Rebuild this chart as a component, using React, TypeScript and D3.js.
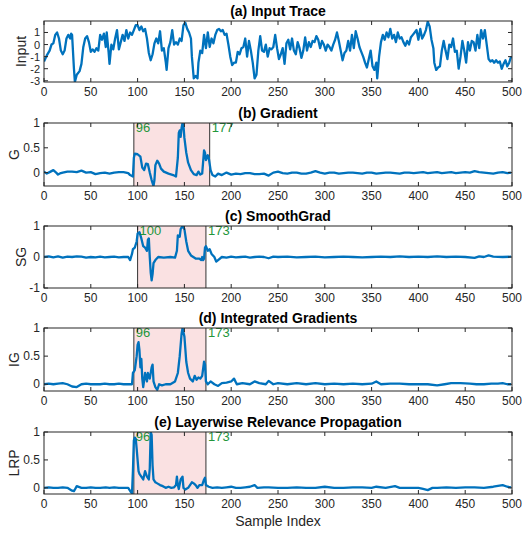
import React from "react";
import * as d3 from "d3";

// sample index / value pairs
const inputTrace: [number, number][] = [
  [0, -1.4], [3, -0.9], [6, -0.5], [8, 0], [10, 0.1], [12, 0.8], [14, 1.0], [16, 0.5], [18, -0.5], [20, -0.8],
  [22, -0.5], [24, 0.5], [26, 0.8], [28, 0.5], [29, 0.9], [30, 0.8], [32, -2.0], [33, -3.1], [35, -2.5], [38, -2.2],
  [40, -1.6], [42, -0.2], [44, 0.5], [46, 0.7], [48, 0.2], [50, -0.6], [52, -0.4], [54, -0.6], [56, -0.3], [58, -0.5],
  [60, 0.8], [62, 0.4], [64, 0.9], [66, -0.2], [67, 1.0], [69, -0.6], [70, -1.6], [72, 0], [74, -0.4], [76, 0.5],
  [78, 1.2], [80, -0.4], [82, 0.2], [84, 0.8], [86, 0.3], [88, 1.2], [90, 0.5], [92, 1.0], [94, 0.8], [96, 1.2],
  [98, 1.6], [100, 1.6], [102, 1.2], [104, 1.5], [106, 1.1], [108, 1.3], [110, 0.5], [112, -0.7], [114, -1.3], [116, -0.8],
  [118, 0.1], [120, 0.5], [122, 0.1], [124, 1.1], [126, -0.5], [128, -0.3], [130, -1.4], [131, -2.1], [133, -0.3], [135, 0.2],
  [137, 1.2], [139, 0.0], [141, 0.2], [143, 0.0], [145, 0.5], [147, 0.3], [149, 1.6], [151, 1.8], [153, 1.3], [155, 1.0],
  [157, 0.5], [158, -1.0], [160, -2.8], [162, -2.6], [164, -2.8], [165, -1.5], [167, -0.5], [169, -0.7], [171, 0.8], [173, -0.3],
  [175, 1.0], [177, -0.2], [179, 0.5], [181, 0.1], [183, 0.8], [185, 1.2], [187, 1.3], [189, 1.1], [191, 1.2], [193, 0.8],
  [195, 0.9], [197, 0.0], [199, -1.0], [201, -1.7], [203, -1.5], [205, -1.5], [207, -0.6], [209, -0.8], [211, -0.3], [213, -0.2],
  [215, 0.5], [217, -1.0], [219, 0.3], [221, -0.5], [223, -1.5], [225, -2.8], [227, -2.5], [229, -0.5], [231, 0.7], [233, -0.5],
  [235, -0.6], [237, 0.0], [239, -1.0], [241, -0.3], [243, -0.4], [245, -0.2], [247, 0.8], [249, -0.3], [251, -1.2], [253, -0.8],
  [255, -0.3], [257, -1.6], [259, 0.1], [261, 0.4], [263, -0.4], [265, 0.5], [267, -0.5], [269, -0.8], [271, 0.2], [273, -0.3],
  [275, -1.1], [277, -0.5], [279, 0.6], [281, -0.5], [283, 0.2], [285, -0.2], [287, 0.3], [289, 0.2], [291, 0.7], [293, 0.4],
  [295, -0.3], [297, 0.3], [299, 0.0], [301, -0.5], [303, 0.0], [305, -0.2], [307, -0.5], [309, 0.0], [311, 0.4], [313, 1.0],
  [315, 0.3], [317, -0.5], [319, -1.3], [321, -0.7], [323, -0.5], [325, 0.3], [327, -0.5], [329, 0.8], [331, -0.3], [333, 1.1],
  [335, 0.5], [337, -0.2], [339, -0.6], [341, -1.0], [343, -1.5], [345, -1.9], [347, -1.2], [349, -0.5], [351, -1.8], [353, -2.1],
  [355, -1.5], [356, -2.8], [358, -1.0], [360, 0.2], [362, 0.8], [364, 0.4], [366, 1.0], [368, 0.6], [370, 1.3], [372, 0.5],
  [374, 0.8], [376, 0.2], [378, 1.0], [380, 0.5], [382, 0.6], [384, 0.2], [386, -0.1], [388, 0.3], [390, 0.0], [392, 0.6],
  [394, 0.8], [396, 1.0], [398, 1.2], [400, 0.4], [402, 1.3], [404, 0.5], [406, 0.8], [408, 1.2], [410, 1.9], [412, 1.5],
  [414, 0.4], [416, -0.3], [417, -1.5], [419, -2.1], [421, -1.9], [423, -1.8], [425, -0.5], [427, 0.3], [429, -0.5], [431, -1.2],
  [433, 0.0], [435, -0.2], [437, 0.5], [439, -0.6], [441, -0.5], [443, -2.0], [445, -1.0], [447, 0.3], [449, -0.5], [451, -1.5],
  [453, 0.2], [455, -0.5], [457, 0.3], [459, 0.2], [461, -0.5], [463, 0.8], [465, -0.3], [467, 1.2], [469, 0.5], [471, 1.2],
  [473, 0.0], [475, -1.2], [477, -1.4], [479, -1.3], [481, -1.5], [483, -1.3], [485, -1.5], [487, -1.4], [489, -2.0], [491, -1.6],
  [493, -1.3], [495, -1.8], [497, -1.5], [499, -1.0],
];

const gradient: [number, number][] = [
  [0, 0.02], [3, -0.02], [6, 0.01], [10, 0.05], [13, 0.0], [15, -0.04], [18, -0.01], [20, 0.0], [25, 0.02], [30, 0.02],
  [35, 0.01], [40, 0.04], [45, 0.0], [50, 0.01], [55, -0.03], [60, -0.01], [65, 0.0], [70, -0.02], [75, 0.0], [80, 0.01],
  [85, 0.01], [90, -0.01], [92, -0.05], [95, -0.08], [96, 0.3], [97, 0.38], [100, 0.37], [103, 0.32], [105, 0.1], [107, 0.05],
  [109, 0.18], [111, 0.17], [113, 0.0], [115, -0.15], [117, -0.27], [118, -0.15], [119, 0.15], [121, 0.24], [123, 0.18], [125, 0.08],
  [128, 0.02], [133, -0.02], [138, -0.05], [141, -0.08], [143, 0.3], [144, 0.8], [145, 0.85], [146, 0.72], [147, 0.9], [148, 1.0],
  [149, 0.95], [150, 0.7], [152, 0.4], [154, 0.2], [157, 0.05], [160, -0.03], [163, -0.05], [165, 0.02], [167, -0.04], [169, -0.02],
  [171, 0.45], [172, 0.4], [173, 0.25], [175, 0.35], [176, 0.3], [178, 0.05], [180, -0.05], [183, -0.08], [186, -0.02], [190, -0.05],
  [195, 0.0], [200, -0.04], [205, -0.02], [210, -0.03], [215, -0.01], [220, -0.01], [225, -0.03], [230, -0.03], [235, -0.02], [240, -0.06],
  [245, 0.0], [250, 0.02], [255, -0.01], [260, -0.02], [265, 0.0], [270, 0.0], [275, -0.02], [280, -0.02], [285, 0.0], [290, 0.03],
  [295, 0.0], [300, -0.02], [305, 0.0], [310, 0.0], [315, -0.02], [320, -0.01], [325, 0.0], [330, 0.0], [335, -0.01], [340, -0.02],
  [345, 0.0], [350, 0.0], [355, -0.02], [360, -0.01], [365, 0.0], [370, 0.0], [375, -0.01], [380, -0.02], [385, 0.0], [390, 0.0],
  [395, -0.01], [400, 0.0], [405, 0.01], [410, -0.01], [415, 0.0], [420, 0.01], [425, -0.01], [430, 0.0], [435, 0.01], [440, -0.01],
  [445, 0.0], [450, 0.01], [455, 0.0], [460, 0.03], [465, 0.01], [470, 0.0], [475, -0.01], [480, -0.02], [485, 0.0], [490, 0.01],
  [495, -0.01], [499, 0.0],
];

const smoothGrad: [number, number][] = [
  [0, 0.0], [5, 0.02], [10, -0.01], [15, 0.02], [20, -0.02], [25, 0.01], [30, 0.0], [35, 0.02], [40, 0.01], [45, -0.02],
  [50, 0.0], [55, -0.01], [60, 0.01], [65, -0.01], [70, 0.0], [75, 0.01], [80, -0.01], [85, 0.0], [90, 0.0], [92, -0.1],
  [94, 0.1], [95, 0.25], [97, 0.3], [99, 0.5], [100, 0.75], [102, 0.8], [104, 0.6], [106, 0.35], [108, 0.3], [110, 0.2],
  [111, 0.55], [112, 0.6], [113, 0.0], [114, -0.5], [115, -0.75], [116, -0.55], [117, -0.2], [119, -0.1], [122, 0.0], [128, -0.02],
  [135, 0.0], [140, -0.02], [142, 0.2], [143, 0.7], [145, 0.65], [146, 0.9], [148, 1.0], [150, 0.9], [152, 0.5], [154, 0.2],
  [157, 0.05], [162, -0.05], [166, -0.05], [168, -0.1], [169, 0.0], [170, -0.1], [171, -0.05], [172, 0.3], [173, 0.35], [175, 0.2],
  [177, 0.25], [179, 0.1], [182, 0.0], [184, -0.15], [186, -0.1], [190, 0.0], [195, -0.02], [200, 0.01], [205, -0.01], [210, 0.0],
  [215, 0.01], [220, -0.02], [225, 0.0], [230, 0.01], [235, 0.0], [240, -0.04], [245, 0.01], [250, 0.0], [260, 0.01], [270, -0.01],
  [280, 0.0], [290, 0.01], [300, -0.01], [310, 0.0], [320, 0.01], [330, 0.0], [340, -0.01], [350, 0.0], [360, 0.01], [370, 0.0],
  [380, 0.02], [390, 0.0], [400, 0.01], [410, 0.0], [420, 0.02], [430, 0.0], [440, 0.01], [450, 0.0], [460, -0.03], [465, 0.02],
  [470, 0.0], [475, 0.05], [480, 0.01], [490, 0.0], [499, 0.01],
];

const integratedGrad: [number, number][] = [
  [0, 0.0], [5, 0.01], [10, 0.0], [15, 0.01], [20, 0.02], [25, 0.0], [30, -0.04], [35, -0.05], [40, 0.0], [45, 0.01],
  [50, 0.0], [55, 0.0], [60, 0.0], [65, 0.01], [70, 0.0], [75, 0.0], [80, 0.01], [85, 0.0], [90, 0.0], [94, 0.0],
  [95, 0.2], [97, 0.25], [99, 0.5], [100, 0.7], [101, 0.75], [102, 0.6], [103, 0.3], [104, 0.45], [105, 0.1], [106, -0.05],
  [108, 0.2], [110, 0.05], [111, 0.2], [113, 0.1], [115, 0.3], [116, 0.35], [117, 0.05], [119, -0.05], [121, -0.1], [123, 0.0],
  [126, -0.02], [130, 0.0], [135, 0.0], [140, 0.05], [143, 0.2], [145, 0.5], [147, 0.9], [148, 1.0], [150, 0.85], [152, 0.4],
  [154, 0.2], [156, 0.1], [159, 0.05], [161, 0.15], [163, 0.08], [165, 0.12], [167, 0.1], [169, 0.15], [171, 0.4], [172, 0.35],
  [173, 0.05], [175, 0.0], [178, 0.05], [182, 0.0], [186, -0.03], [190, 0.02], [195, 0.03], [200, 0.05], [203, 0.1], [206, 0.0],
  [212, 0.02], [220, 0.0], [225, 0.05], [230, 0.02], [237, 0.0], [240, 0.06], [245, 0.0], [250, 0.02], [260, 0.0], [270, 0.02],
  [280, 0.0], [290, 0.02], [300, 0.0], [310, 0.01], [320, 0.0], [330, 0.01], [340, 0.0], [350, 0.01], [355, 0.05], [360, 0.0],
  [370, 0.01], [380, 0.01], [390, 0.0], [400, 0.0], [410, 0.0], [420, -0.02], [428, 0.0], [435, 0.02], [445, 0.02], [455, 0.01],
  [462, 0.0], [470, 0.0], [478, 0.01], [485, 0.01], [490, 0.02], [495, 0.0], [499, 0.0],
];

const lrp: [number, number][] = [
  [0, 0.0], [5, 0.01], [10, 0.0], [15, 0.0], [20, 0.01], [25, 0.0], [30, -0.05], [32, -0.06], [35, 0.03], [40, 0.0],
  [45, 0.0], [50, 0.01], [55, 0.0], [60, 0.0], [66, 0.01], [70, 0.0], [75, 0.01], [80, 0.0], [85, 0.0], [90, 0.0],
  [93, -0.08], [94, -0.1], [95, 0.3], [96, 0.85], [97, 0.9], [98, 0.88], [99, 0.7], [100, 0.5], [101, 0.3], [102, 0.25],
  [104, 0.2], [106, 0.15], [108, 0.3], [110, 0.2], [112, 0.15], [113, 0.35], [114, 1.0], [115, 0.95], [116, 0.4], [117, 0.15],
  [119, 0.1], [121, 0.08], [124, 0.05], [127, 0.03], [130, 0.0], [133, 0.02], [136, 0.0], [139, 0.01], [141, 0.05], [142, 0.2],
  [143, 0.05], [144, -0.02], [146, 0.15], [148, 0.2], [149, 0.0], [151, -0.03], [154, 0.0], [156, 0.05], [158, 0.1], [160, 0.08],
  [162, 0.05], [164, 0.0], [166, 0.05], [169, 0.05], [171, 0.15], [172, 0.18], [173, 0.05], [176, 0.02], [180, 0.0], [185, 0.01],
  [190, 0.0], [195, 0.01], [200, 0.02], [205, 0.0], [210, 0.0], [215, 0.01], [220, 0.02], [225, 0.05], [228, 0.0], [235, 0.01],
  [240, 0.01], [250, 0.0], [260, 0.0], [270, 0.01], [280, 0.0], [290, 0.0], [300, 0.02], [310, 0.0], [320, 0.0], [330, 0.01],
  [340, 0.01], [350, 0.0], [355, 0.02], [365, 0.0], [375, 0.03], [380, 0.0], [390, 0.0], [400, 0.0], [405, -0.02], [410, -0.04],
  [415, 0.0], [420, 0.0], [430, 0.01], [440, 0.0], [450, 0.01], [460, 0.01], [470, 0.0], [480, 0.02], [490, 0.05], [495, 0.02],
  [499, 0.01],
];

const xTicks = [0, 50, 100, 150, 200, 250, 300, 350, 400, 450, 500];

const panels = [
  { title: "(a) Input Trace", ylabel: "Input", data: inputTrace, top: 21, bottom: 82, domain: [-3.1, 1.95], yTicks: [-3, -2, -1, 0, 1], region: null, labelX: 26, tickFont: 11 },
  { title: "(b) Gradient", ylabel: "G", data: gradient, top: 123, bottom: 186, domain: [-0.27, 1], yTicks: [0, 0.5, 1], region: [96, 177], labelX: 19, tickFont: 12 },
  { title: "(c) SmoothGrad", ylabel: "SG", data: smoothGrad, top: 226, bottom: 288, domain: [-1, 1], yTicks: [-1, 0, 1], region: [100, 173], labelX: 26, tickFont: 12 },
  { title: "(d) Integrated Gradients", ylabel: "IG", data: integratedGrad, top: 328, bottom: 391, domain: [-0.12, 1], yTicks: [0, 0.5, 1], region: [96, 173], labelX: 19, tickFont: 12 },
  { title: "(e) Layerwise Relevance Propagation", ylabel: "LRP", data: lrp, top: 432, bottom: 494, domain: [-0.11, 1], yTicks: [0, 0.5, 1], region: [96, 173], labelX: 19, tickFont: 12 },
];

const FONT = "'Liberation Sans', Arial, Helvetica, sans-serif";
const LEFT = 44;
const RIGHT = 512;
const TICK = 4;

const x = d3.scaleLinear().domain([0, 500]).range([LEFT, RIGHT]);

export default function App() {
  return (
    <svg width={522} height={533} style={{ position: "absolute", left: 0, top: 0, background: "#fff" }} fontFamily={FONT}>
      {panels.map((p, k) => {
        const y = d3.scaleLinear().domain(p.domain).range([p.bottom, p.top]);
        const line = d3.line<[number, number]>().x((d) => x(d[0])).y((d) => y(d[1]));
        const clipId = `clip-${k}`;
        return (
          <g key={k}>
            <defs>
              <clipPath id={clipId}>
                <rect x={LEFT} y={p.top} width={RIGHT - LEFT} height={p.bottom - p.top} />
              </clipPath>
            </defs>
            {p.region && (
              <g>
                <rect x={x(p.region[0])} y={p.top} width={x(p.region[1]) - x(p.region[0])} height={p.bottom - p.top} fill="#fae1e2" />
                <line x1={x(p.region[0])} x2={x(p.region[0])} y1={p.top} y2={p.bottom} stroke="#333" strokeWidth={1} />
                <line x1={x(p.region[1])} x2={x(p.region[1])} y1={p.top} y2={p.bottom} stroke="#333" strokeWidth={1} />
              </g>
            )}
            <path d={line(p.data) || ""} fill="none" stroke="#0072BD" strokeWidth={2.3} strokeLinejoin="round" clipPath={`url(#${clipId})`} />
            {p.region &&
              p.region.map((r, j) => (
                <text key={j} x={x(r) + 2} y={p.top + 9} fontSize={13} fill="#23963a">
                  {r}
                </text>
              ))}
            {/* axes box */}
            <rect x={LEFT} y={p.top} width={RIGHT - LEFT} height={p.bottom - p.top} fill="none" stroke="#262626" strokeWidth={1} />
            {xTicks.map((t) => (
              <g key={t}>
                <line x1={x(t)} x2={x(t)} y1={p.bottom} y2={p.bottom - TICK} stroke="#262626" />
                <line x1={x(t)} x2={x(t)} y1={p.top} y2={p.top + TICK} stroke="#262626" />
                <text x={x(t)} y={p.bottom + 14} fontSize={12} textAnchor="middle" fill="#262626">
                  {t}
                </text>
              </g>
            ))}
            {p.yTicks.map((t) => (
              <g key={t}>
                <line x1={LEFT} x2={LEFT + TICK} y1={y(t)} y2={y(t)} stroke="#262626" />
                <line x1={RIGHT} x2={RIGHT - TICK} y1={y(t)} y2={y(t)} stroke="#262626" />
                <text x={LEFT - 4} y={y(t) + 4} fontSize={p.tickFont} textAnchor="end" fill="#262626">
                  {t}
                </text>
              </g>
            ))}
            <text x={(LEFT + RIGHT) / 2} y={p.top - 5} fontSize={14} fontWeight="bold" textAnchor="middle" fill="#000">
              {p.title}
            </text>
            <text
              transform={`translate(${p.labelX},${(p.top + p.bottom) / 2}) rotate(-90)`}
              fontSize={14}
              textAnchor="middle"
              fill="#262626"
            >
              {p.ylabel}
            </text>
          </g>
        );
      })}
      <text x={(LEFT + RIGHT) / 2} y={526} fontSize={14} textAnchor="middle" fill="#262626">
        Sample Index
      </text>
    </svg>
  );
}
